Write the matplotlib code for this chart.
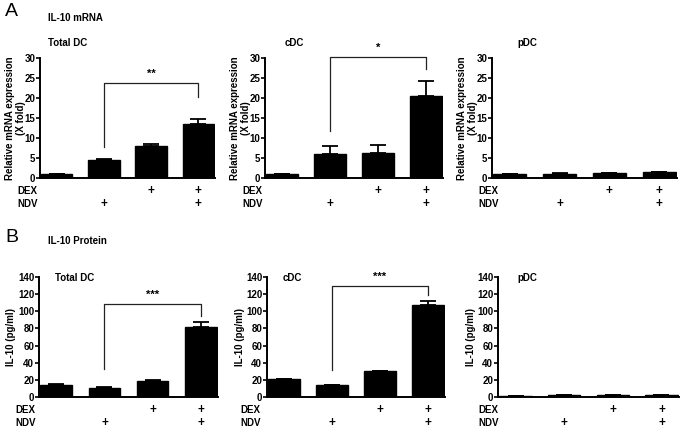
import matplotlib
matplotlib.use("Agg")
import matplotlib.pyplot as plt
import matplotlib.transforms as mtransforms

plt.rcParams['font.family'] = ['Liberation Sans', 'DejaVu Sans']
plt.rcParams['font.weight'] = 'bold'

# ---------------- data ----------------
groups = ["Total DC", "cDC", "pDC"]
dex_marks = ["", "", "+", "+"]
ndv_marks = ["", "+", "", "+"]

mrna_total = [1.0, 4.4, 8.0, 13.5]
mrna_total_err = [0.1, 0.3, 0.5, 1.2]
mrna_cdc = [1.0, 6.0, 6.3, 20.4]
mrna_cdc_err = [0.1, 2.1, 1.9, 3.9]
mrna_pdc = [1.0, 1.1, 1.3, 1.5]
mrna_pdc_err = [0.02, 0.03, 0.03, 0.04]

prot_total = [14.5, 11.0, 18.8, 82.0]
prot_total_err = [1.0, 0.8, 1.0, 6.0]
prot_cdc = [20.6, 13.6, 30.0, 107.5]
prot_cdc_err = [0.8, 0.8, 0.8, 4.2]
prot_pdc = [1.5, 2.5, 2.0, 2.0]
prot_pdc_err = [0.1, 0.1, 0.1, 0.1]

mrna_sig = [("**", 1, 3, 23.75, 7.75, 20.25), ("*", 1, 3, 30.3, 11.75, 27.2), None]
prot_sig = [("***", 1, 3, 108, 32.5, 94), ("***", 1, 3, 129.5, 32, 118.6), None]

W, H = 683, 428
fig = plt.figure(figsize=(W / 100, H / 100), dpi=100)


def px_axes(left, top, right, bottom):
    return fig.add_axes([left / W, 1 - bottom / H, (right - left) / W, (bottom - top) / H])


def draw_panel(ax, vals, errs, ylim, yticks, ylabel, sig, label_x, labelpad):
    x = list(range(len(vals)))
    ax.bar(x, vals, width=0.66, color='black', edgecolor='black', zorder=2)
    ax.errorbar(x, vals, yerr=[[0] * len(errs), errs], fmt='none', ecolor='black',
                elinewidth=1.3, capsize=5.5, capthick=1.3, zorder=3, clip_on=False)
    ax.set_xlim(-0.36, 3.36)
    ax.set_ylim(*ylim)
    ax.set_yticks(yticks)
    ax.set_xticks([])
    for s in ['top', 'right']:
        ax.spines[s].set_visible(False)
    for s in ['left', 'bottom']:
        ax.spines[s].set_linewidth(1.4)
    ax.tick_params(axis='y', direction='out', length=3, width=1.2, pad=0.5, labelsize=7)
    for lbl in ax.get_yticklabels():
        lbl.set_fontweight('bold')
    ax.set_ylabel(ylabel, fontsize=7, fontweight='bold', labelpad=labelpad, linespacing=1.05)
    trans = mtransforms.blended_transform_factory(ax.transData, ax.transAxes)
    h = ax.bbox.height
    for i in x:
        if dex_marks[i]:
            ax.text(i, -13 / h, dex_marks[i], transform=trans, ha='center', va='center',
                    fontsize=8.5, fontweight='bold', clip_on=False)
        if ndv_marks[i]:
            ax.text(i, -26 / h, ndv_marks[i], transform=trans, ha='center', va='center',
                    fontsize=8.5, fontweight='bold', clip_on=False)
    base = H - ax.bbox.y0
    fig.text(label_x / W, 1 - (base + 13) / H, "DEX",
             ha='left', va='center', fontsize=7, fontweight='bold')
    fig.text(label_x / W, 1 - (base + 26) / H, "NDV",
             ha='left', va='center', fontsize=7, fontweight='bold')
    if sig is not None:
        txt, a, b, top, la, rb = sig
        ax.plot([a, a, b, b], [la, top, top, rb], color='#222222', lw=0.9, clip_on=False, zorder=1)
        ax.text((a + b) / 2, top + (ylim[1] - ylim[0]) * 0.035, txt, ha='center', va='bottom',
                fontsize=8, fontweight='bold', clip_on=False)


# Row A (mRNA)
rowA = [(40, 215), (265, 443), (492, 677)]
rowA_labx = [17, 242, 478]
mrna_vals = [(mrna_total, mrna_total_err), (mrna_cdc, mrna_cdc_err), (mrna_pdc, mrna_pdc_err)]
for i, ((l, r), (v, e)) in enumerate(zip(rowA, mrna_vals)):
    ax = px_axes(l, 58, r, 178)
    draw_panel(ax, v, e, (0, 30), [0, 5, 10, 15, 20, 25, 30],
               "Relative mRNA expression\n(X fold)", mrna_sig[i], rowA_labx[i], -1)

fig.text(48 / W, 1 - 43 / H, "Total DC", ha='left', va='center', fontsize=7, fontweight='bold')
fig.text(285 / W, 1 - 43 / H, "cDC", ha='left', va='center', fontsize=7, fontweight='bold')
fig.text(517 / W, 1 - 43 / H, "pDC", ha='left', va='center', fontsize=7, fontweight='bold')
fig.text(5 / W, 1 - 12 / H, "A", ha='left', va='center', fontsize=14, fontweight='normal')
fig.text(48 / W, 1 - 18 / H, "IL-10 mRNA", ha='left', va='center', fontsize=7, fontweight='bold')

# Row B (protein)
rowB = [(39, 218), (267, 445), (498, 679)]
rowB_labx = [15, 240, 478]
prot_vals = [(prot_total, prot_total_err), (prot_cdc, prot_cdc_err), (prot_pdc, prot_pdc_err)]
for i, ((l, r), (v, e)) in enumerate(zip(rowB, prot_vals)):
    ax = px_axes(l, 277, r, 397)
    draw_panel(ax, v, e, (0, 140), [0, 20, 40, 60, 80, 100, 120, 140],
               "IL-10 (pg/ml)", prot_sig[i], rowB_labx[i], 1)

fig.text(55 / W, 1 - 278 / H, "Total DC", ha='left', va='center', fontsize=7, fontweight='bold')
fig.text(283 / W, 1 - 278 / H, "cDC", ha='left', va='center', fontsize=7, fontweight='bold')
fig.text(517 / W, 1 - 278 / H, "pDC", ha='left', va='center', fontsize=7, fontweight='bold')
fig.text(5 / W, 1 - 238 / H, "B", ha='left', va='center', fontsize=14, fontweight='normal')
fig.text(48 / W, 1 - 241 / H, "IL-10 Protein", ha='left', va='center', fontsize=7, fontweight='bold')

fig.savefig("out.png", dpi=100)
